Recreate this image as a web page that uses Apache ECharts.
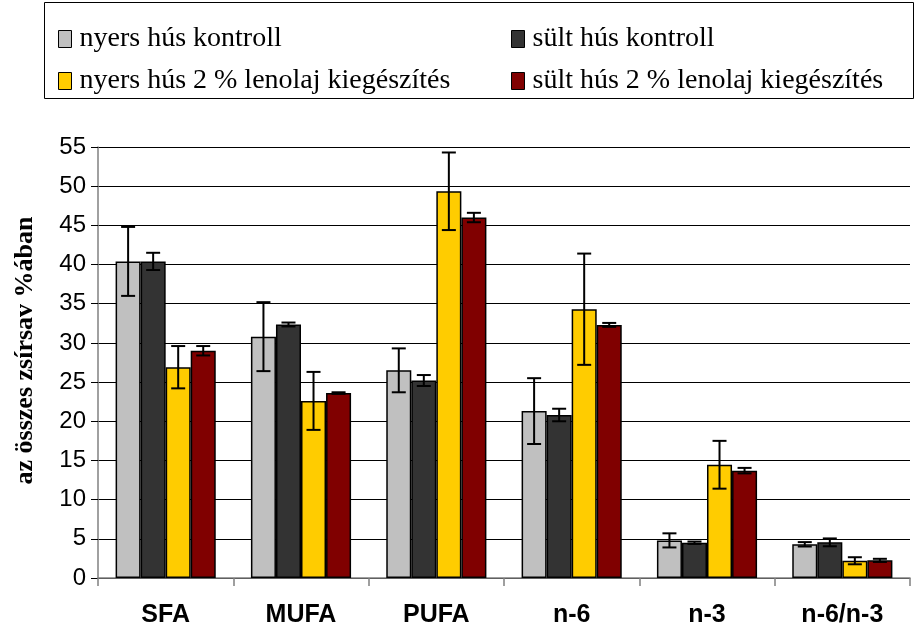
<!DOCTYPE html>
<html><head><meta charset="utf-8">
<script src="https://cdn.jsdelivr.net/npm/echarts@6/dist/echarts.min.js"></script>
<style>html,body{margin:0;padding:0;background:#fff}#c{width:916px;height:628px}</style>
</head><body><div id="c"></div>
<script>
const categories = ['SFA','MUFA','PUFA','n-6','n-3','n-6/n-3'];
const seriesNames = ['nyers hús kontroll','sült hús kontroll','nyers hús 2 % lenolaj kiegészítés','sült hús 2 % lenolaj kiegészítés'];
const nyersKontroll = [40.4, 30.8, 26.5, 21.3, 4.8, 4.3];
const sultKontroll = [40.4, 32.35, 25.2, 20.8, 4.5, 4.55];
const nyersLen = [26.9, 22.6, 49.35, 34.3, 14.45, 2.2];
const sultLen = [29.0, 23.6, 46.0, 32.3, 13.7, 2.25];
const errNyersKontroll = [4.4, 4.4, 2.8, 4.2, 0.9, 0.28];
const errSultKontroll = [1.1, 0.25, 0.7, 0.8, 0.15, 0.5];
const errNyersLen = [2.7, 3.7, 4.95, 7.1, 3.05, 0.45];
const errSultLen = [0.6, 0.1, 0.6, 0.25, 0.35, 0.2];
const yTicks = {min: 0, max: 55, interval: 5};

const values = [nyersKontroll, sultKontroll, nyersLen, sultLen];
const errs = [errNyersKontroll, errSultKontroll, errNyersLen, errSultLen];
const colors = ['#C0C0C0', '#333333', '#FFCC00', '#800000'];
const catGap = 0.26;

const chart = echarts.init(document.getElementById('c'), null, {renderer: 'canvas'});
const series = [];
values.forEach((v, i) => {
  series.push({
    name: seriesNames[i], type: 'bar', data: v, barGap: '0%', barCategoryGap: '26%',
    itemStyle: {color: colors[i], borderColor: '#000', borderWidth: 1.5},
    emphasis: {disabled: true}, z: 2
  });
});
values.forEach((v, i) => {
  series.push({
    type: 'custom', name: 'err' + i, silent: true, z: 5,
    data: v.map((val, k) => [k, val - errs[i][k], val + errs[i][k]]),
    renderItem: function (params, api) {
      const k = api.value(0);
      const band = api.size([1, 0])[0];
      const bw = band * (1 - catGap) / 4;
      const c = api.coord([k, 0]);
      const x = c[0] + (i - 1.5) * bw;
      const lo = api.coord([k, api.value(1)])[1];
      const hi = api.coord([k, api.value(2)])[1];
      const cap = 7;
      const st = {stroke: '#000', lineWidth: 2};
      return {type: 'group', children: [
        {type: 'line', shape: {x1: x, y1: lo, x2: x, y2: hi}, style: st},
        {type: 'line', shape: {x1: x - cap, y1: lo, x2: x + cap, y2: lo}, style: st},
        {type: 'line', shape: {x1: x - cap, y1: hi, x2: x + cap, y2: hi}, style: st}
      ]};
    }
  });
});

const legText = {fontFamily: 'Liberation Serif', fontSize: 28, color: '#000', padding: [0, 0, 0, 3]};
chart.setOption({
  animation: false,
  grid: {left: 98, right: 6, top: 147, bottom: 50},
  graphic: [{type: 'rect', shape: {x: 44.5, y: 2.5, width: 869, height: 96}, style: {fill: 'none', stroke: '#000', lineWidth: 1}, silent: true}],
  legend: [
    {data: [seriesNames[0], seriesNames[2]], orient: 'vertical', left: 53, top: 20, itemGap: 14,
     itemWidth: 13, itemHeight: 17, icon: 'rect', textStyle: legText, selectedMode: false,
     itemStyle: {borderColor: '#000', borderWidth: 1}},
    {data: [seriesNames[1], seriesNames[3]], orient: 'vertical', left: 506, top: 20, itemGap: 14,
     itemWidth: 13, itemHeight: 17, icon: 'rect', textStyle: legText, selectedMode: false,
     itemStyle: {borderColor: '#000', borderWidth: 1}}
  ],
  xAxis: {
    type: 'category', data: categories,
    axisLine: {lineStyle: {color: '#808080', width: 1.5}},
    axisTick: {show: true, length: 8, lineStyle: {color: '#808080', width: 1.5}},
    axisLabel: {fontFamily: 'Liberation Sans', fontWeight: 'bold', fontSize: 25, color: '#000', margin: 25}
  },
  yAxis: {
    type: 'value', min: yTicks.min, max: yTicks.max, interval: yTicks.interval,
    name: 'az összes zsírsav %ában', nameLocation: 'middle', nameGap: 60, nameRotate: 90,
    nameTextStyle: {fontFamily: 'Liberation Serif', fontWeight: 'bold', fontSize: 26, color: '#000', padding: [0, 0, 0, 24]},
    axisLine: {show: true, lineStyle: {color: '#808080', width: 1.5}},
    axisTick: {show: true, length: 7, lineStyle: {color: '#000'}},
    axisLabel: {fontFamily: 'Liberation Sans', fontSize: 24, color: '#000', margin: 12},
    splitLine: {lineStyle: {color: '#000', width: 1}}
  },
  series: series
});
</script></body></html>
